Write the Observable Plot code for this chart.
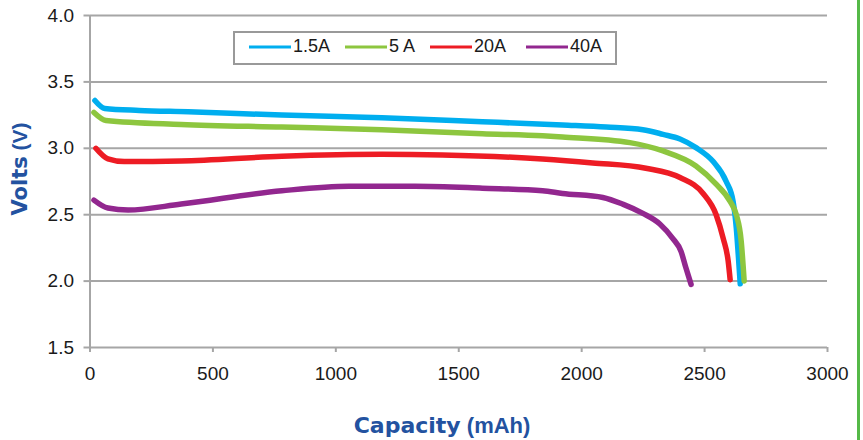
<!DOCTYPE html>
<html>
<head>
<meta charset="utf-8">
<script src="https://cdn.jsdelivr.net/npm/d3@7"></script>
<script src="https://cdn.jsdelivr.net/npm/@observablehq/plot@0.6"></script>
<style>
  html, body { margin: 0; padding: 0; background: white; }
  #wrap { position: relative; width: 863px; height: 440px; overflow: hidden; }
  #edge { position: absolute; left: 857px; top: 0; width: 3px; height: 440px; background: #55b947; }
</style>
</head>
<body>
<div id="wrap"><div id="edge"></div></div>
<script>
// ---- data ----
const seriesNames = ["1.5A", "5 A", "20A", "40A"];
const seriesColors = ["#00aeef", "#8dc63f", "#ed1c24", "#92278f"];

const cap15  = [20, 60, 200, 400, 780, 1188, 1596, 1922, 2100, 2249, 2331, 2400, 2465, 2535, 2588, 2616, 2629, 2637, 2645];
const volt15 = [3.36, 3.30, 3.285, 3.275, 3.25, 3.23, 3.20, 3.175, 3.16, 3.14, 3.105, 3.07, 3.005, 2.90, 2.75, 2.60, 2.40, 2.20, 1.98];

const cap5  = [16, 65, 371, 780, 1188, 1596, 1841, 1922, 2196, 2331, 2465, 2547, 2604, 2629, 2649, 2661];
const volt5 = [3.27, 3.21, 3.18, 3.16, 3.14, 3.11, 3.094, 3.085, 3.043, 2.98, 2.867, 2.73, 2.60, 2.50, 2.30, 2.00];

const cap20  = [24, 73, 139, 371, 780, 1188, 1433, 1841, 2045, 2261, 2400, 2494, 2547, 2576, 2596, 2604];
const volt20 = [3.00, 2.92, 2.90, 2.905, 2.94, 2.955, 2.95, 2.92, 2.89, 2.85, 2.78, 2.66, 2.50, 2.32, 2.15, 2.01];

const cap40  = [16, 73, 155, 371, 780, 1053, 1322, 1596, 1841, 1922, 2086, 2167, 2249, 2318, 2371, 2404, 2424, 2445];
const volt40 = [2.61, 2.55, 2.535, 2.58, 2.68, 2.715, 2.715, 2.70, 2.68, 2.66, 2.63, 2.58, 2.51, 2.43, 2.32, 2.225, 2.10, 1.975];

const xTicks = [0, 500, 1000, 1500, 2000, 2500, 3000];
const yTicks = [1.5, 2.0, 2.5, 3.0, 3.5, 4.0];

// ---- build table ----
const caps = [cap15, cap5, cap20, cap40];
const volts = [volt15, volt5, volt20, volt40];
const rows = [];
seriesNames.forEach((s, i) => caps[i].forEach((c, j) => rows.push({series: s, c, v: volts[i][j]})));

const grid = "#a6a6a6";
const chart = Plot.plot({
  width: 863,
  height: 440,
  marginLeft: 89.5,
  marginRight: 36,
  marginTop: 15,
  marginBottom: 93,
  style: {fontFamily: "'Liberation Sans', Arial, sans-serif", fontSize: "19px", color: "#1a1a1a", background: "white", overflow: "visible"},
  x: {domain: [0, 3000], label: null},
  y: {domain: [1.5, 4.0], label: null},
  color: {domain: seriesNames, range: seriesColors},
  marks: [
    Plot.ruleY(yTicks, {stroke: grid, strokeWidth: 2}),
    Plot.ruleX([0], {stroke: grid, strokeWidth: 2}),
    Plot.axisY({ticks: yTicks, tickFormat: d3.format(".1f"), tickSize: 6, tickPadding: 10, stroke: grid, strokeWidth: 2, strokeOpacity: 1, label: null}),
    Plot.axisX({ticks: xTicks, tickFormat: d => String(d), tickSize: 5, tickPadding: 14, stroke: grid, strokeWidth: 2, strokeOpacity: 1, label: null}),
    Plot.line(rows, {x: "c", y: "v", z: "series", stroke: "series", curve: "monotone-x", strokeWidth: 5.5, strokeLinecap: "round", strokeLinejoin: "round"})
  ]
});

const svg = d3.select(chart);
const titleColor = "#2352a0";

// axis titles
const yt = svg.append("text")
  .attr("transform", "translate(21,169) rotate(-90)")
  .attr("text-anchor", "middle")
  .attr("dominant-baseline", "middle")
  .attr("fill", titleColor)
  .style("font-size", "21px");
yt.append("tspan").style("font-family", "'DejaVu Sans', sans-serif").style("font-weight", "bold").text("Volts");
yt.append("tspan").style("font-family", "'Liberation Sans', Arial, sans-serif").style("font-weight", "bold").text(" (V)");

const xt = svg.append("text")
  .attr("x", 442).attr("y", 427)
  .attr("text-anchor", "middle")
  .attr("dominant-baseline", "middle")
  .attr("fill", titleColor)
  .style("font-size", "22px");
xt.append("tspan").style("font-family", "'DejaVu Sans', sans-serif").style("font-weight", "bold").text("Capacity");
xt.append("tspan").style("font-family", "'Liberation Sans', Arial, sans-serif").style("font-weight", "bold").text(" (mAh)");

// legend
const lg = svg.append("g");
lg.append("rect").attr("x", 234).attr("y", 32).attr("width", 382).attr("height", 32)
  .attr("fill", "white").attr("stroke", "#999").attr("stroke-width", 2);
const legX = [249, 345, 430, 526];
seriesNames.forEach((s, i) => {
  lg.append("line").attr("x1", legX[i]).attr("x2", legX[i] + 42).attr("y1", 47).attr("y2", 47)
    .attr("stroke", seriesColors[i]).attr("stroke-width", 3);
  lg.append("text").attr("x", legX[i] + 44).attr("y", 47)
    .attr("text-anchor", "start").attr("dominant-baseline", "middle")
    .attr("fill", "#1a1a1a").style("font-size", "18px").text(s);
});

document.getElementById("wrap").prepend(chart);
</script>
</body>
</html>
